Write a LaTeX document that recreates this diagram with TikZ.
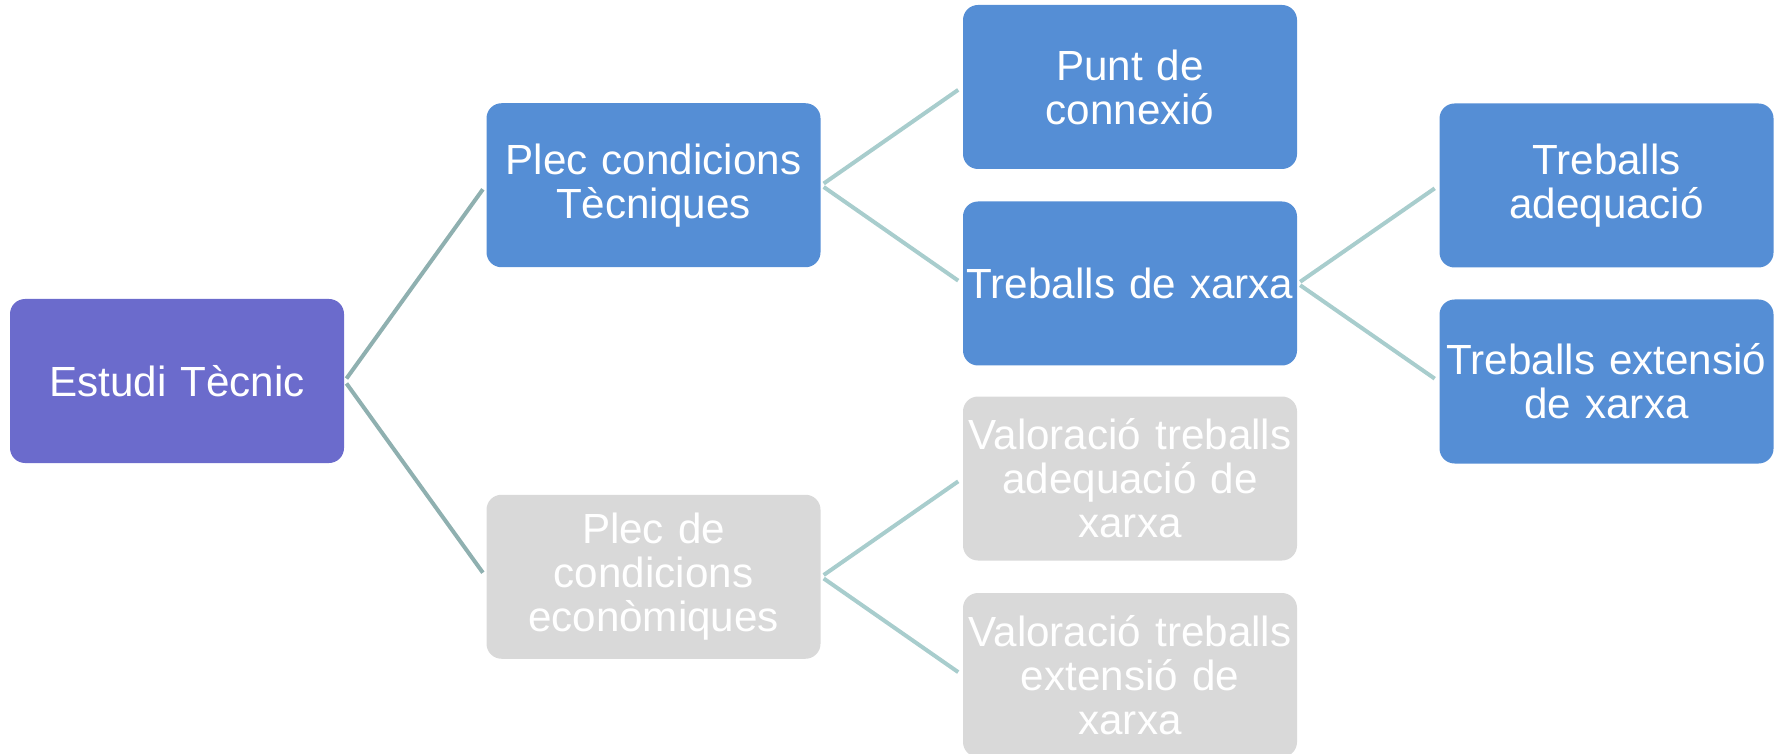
\documentclass[tikz,border=0pt]{standalone}
\usepackage{fontspec}
\setmainfont{Liberation Sans}
\definecolor{boxblue}{RGB}{85,142,213}
\definecolor{boxpurple}{RGB}{107,107,204}
\definecolor{boxgray}{RGB}{217,217,217}
\definecolor{linedark}{RGB}{143,176,176}
\definecolor{linelight}{RGB}{168,205,205}
\begin{document}
\begin{tikzpicture}[
  grow'=right, level distance=4.765cm,
  level 1/.style={sibling distance=3.915cm, edge from parent/.append style={draw=linedark}},
  level 2/.style={sibling distance=1.965cm, edge from parent/.append style={draw=linelight}},
  level 3/.style={sibling distance=1.96cm},
  every node/.style = {shape=rectangle, rounded corners=0.15cm, fill=boxblue,
    text=white, align=center, text width=3.3cm, minimum width=3.34cm,
    minimum height=1.64cm, inner sep=0pt, font=\fontsize{12}{12.5}\selectfont},
  edge from parent/.style = {draw=linelight, line width=0.04cm,
    shorten <=0.03cm, shorten >=0.05cm},
  edge from parent path = {(\tikzparentnode.east) -- (\tikzchildnode.west)}
  ]
  \useasboundingbox (0,0) rectangle (17.79,-7.54);
  \node[fill=boxpurple] (estudi) at (1.77,-3.81) {Estudi Tècnic}
    child { node (plectec) {Plec condicions\\Tècniques}
      child { node (punt) {Punt de\\connexió} }
      child { node (xarxa) {Treballs de xarxa}
        child { node (adeq) {Treballs\\adequació} }
        child { node (ext) {Treballs extensió\\de xarxa} }
      }
    }
    child { node[fill=boxgray] (plececo) {Plec de\\condicions\\econòmiques}
      child { node[fill=boxgray] (valadeq) {Valoració treballs\\adequació de\\xarxa} }
      child { node[fill=boxgray] (valext) {Valoració treballs\\extensió de\\xarxa} }
    };
\end{tikzpicture}
\end{document}
